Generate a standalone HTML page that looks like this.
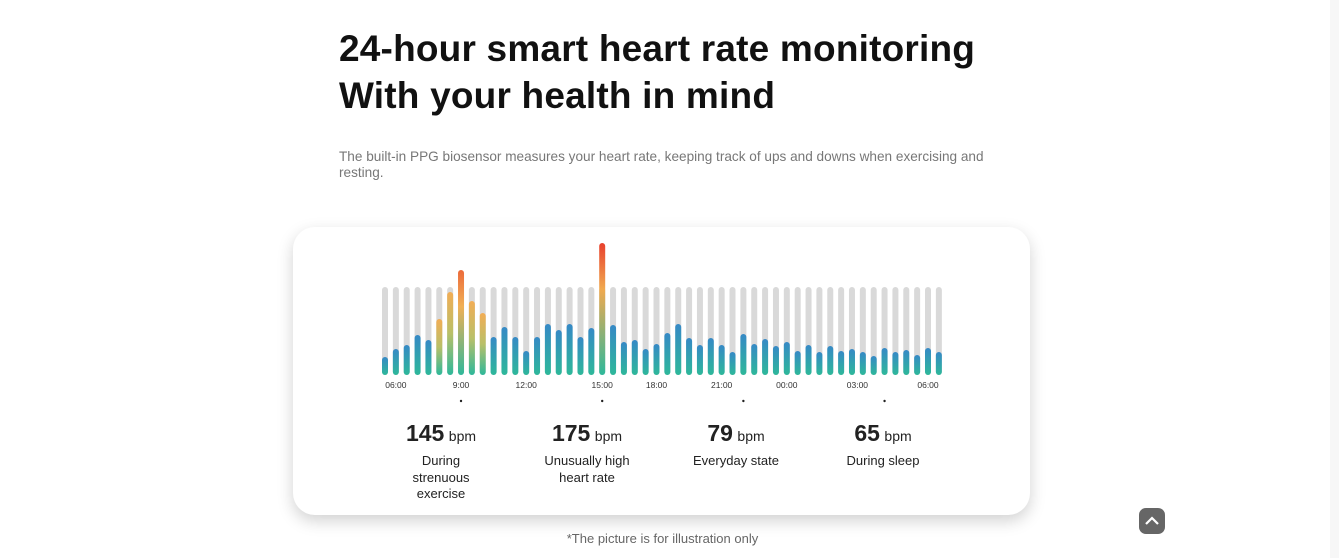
<!DOCTYPE html>
<html><head><meta charset="utf-8"><style>
body{margin:0;width:1339px;height:558px;background:#fff;font-family:"Liberation Sans",sans-serif;position:relative;overflow:hidden}
.t{position:absolute;left:339px;top:25px;font-size:37px;font-weight:bold;line-height:47px;color:#111;margin:0;letter-spacing:0.2px}
.s{position:absolute;left:339px;top:149px;width:680px;font-size:13.6px;line-height:16px;color:#777}
.card{position:absolute;left:293px;top:227px;width:737px;height:288px;border-radius:22px;background:#fff;box-shadow:0 6px 16px rgba(0,0,0,.18)}
.st{position:absolute;top:420px;width:150px;text-align:center;color:#222}
.st b{font-size:23px}.st span{font-size:14px}.st p{margin:6px 0 0;font-size:13px;line-height:16.5px}
.f{position:absolute;left:0;width:1325px;top:531px;text-align:center;font-size:13px;color:#666}
.up{position:absolute;left:1139px;top:508px;width:26px;height:26px;border-radius:7px;background:#666}
.sb{position:absolute;right:0;top:0;width:9px;height:558px;background:#f7f7f7}
</style></head><body>
<h1 class="t">24-hour smart heart rate monitoring<br>With your health in mind</h1>
<div class="s">The built-in PPG biosensor measures your heart rate, keeping track of ups and downs when exercising and resting.</div>
<div class="card"></div>
<svg id="c" width="1339" height="558" style="position:absolute;left:0;top:0">
<defs>
<linearGradient id="gb" x1="0" y1="0" x2="0" y2="1"><stop offset="0" stop-color="#3689c6"/><stop offset="1" stop-color="#2eb89a"/></linearGradient>
<linearGradient id="go" x1="0" y1="0" x2="0" y2="1"><stop offset="0" stop-color="#f2ad55"/><stop offset="0.5" stop-color="#b9c068"/><stop offset="1" stop-color="#2eb89a"/></linearGradient>
<linearGradient id="gm" x1="0" y1="0" x2="0" y2="1"><stop offset="0" stop-color="#ec6a3a"/><stop offset="0.35" stop-color="#f0b055"/><stop offset="1" stop-color="#2eb89a"/></linearGradient>
<linearGradient id="gr" x1="0" y1="0" x2="0" y2="1"><stop offset="0" stop-color="#e8402d"/><stop offset="0.35" stop-color="#f0a94f"/><stop offset="1" stop-color="#2eb89a"/></linearGradient>
</defs>
</svg>
<div class="st" style="left:366px"><b>145</b> <span>bpm</span><p>During<br>strenuous<br>exercise</p></div>
<div class="st" style="left:512px"><b>175</b> <span>bpm</span><p>Unusually high<br>heart rate</p></div>
<div class="st" style="left:661px"><b>79</b> <span>bpm</span><p>Everyday state</p></div>
<div class="st" style="left:808px"><b>65</b> <span>bpm</span><p>During sleep</p></div>
<div class="f">*The picture is for illustration only</div>
<div class="up"><svg width="26" height="26"><path d="M7 16 L13 10 L19 16" stroke="#fff" stroke-width="2.2" fill="none"/></svg></div>
<div class="sb"></div>
<script>
const values=[16,24,28,38,33,54,81,103,72,60,36,46,36,22,36,49,43,49,36,45,130,48,31,33,24,29,40,49,35,28,35,28,21,39,29,34,27,31,22,28,21,27,22,24,21,17,25,21,23,18,25,21];
const kinds=[0,0,0,0,0,1,1,2,1,1,0,0,0,0,0,0,0,0,0,0,3,0,0,0,0,0,0,0,0,0,0,0,0,0,0,0,0,0,0,0,0,0,0,0,0,0,0,0,0,0,0,0];
const tickLabels=["06:00","9:00","12:00","15:00","18:00","21:00","00:00","03:00","06:00"];
const tickPos=[1,7,13,20,25,31,37,43.5,50];
const dotPos=[7,20,33,46];
const bgMax=86;
const svg=document.getElementById('c');const NS='http://www.w3.org/2000/svg';
const x=i=>385+i*10.86, y=v=>373-v;
const fills=['url(#gb)','url(#go)','url(#gm)','url(#gr)'];
values.forEach((v,i)=>{
 const g=document.createElementNS(NS,'rect');
 g.setAttribute('x',x(i)-3);g.setAttribute('y',y(bgMax));g.setAttribute('width',6);g.setAttribute('height',bgMax+2);g.setAttribute('rx',3);g.setAttribute('fill','#d9d9d9');
 
 
 svg.appendChild(g);
 const b=document.createElementNS(NS,'rect');
 b.setAttribute('x',x(i)-3);b.setAttribute('y',y(v));b.setAttribute('width',6);b.setAttribute('height',v+2);b.setAttribute('rx',3);b.setAttribute('fill',fills[kinds[i]]);
 
 
 svg.appendChild(b);
});
tickLabels.forEach((t,k)=>{
 const e=document.createElementNS(NS,'text');
 e.setAttribute('x',x(tickPos[k]));e.setAttribute('y',388);e.setAttribute('text-anchor','middle');e.setAttribute('font-size','8.5');e.setAttribute('fill','#333');e.setAttribute('font-family','Liberation Sans, sans-serif');
 e.textContent=t;
 
 
 svg.appendChild(e);
});
dotPos.forEach(p=>{
 const d=document.createElementNS(NS,'circle');
 d.setAttribute('cx',x(p));d.setAttribute('cy',401);d.setAttribute('r',1.2);d.setAttribute('fill','#222');
 
 
 svg.appendChild(d);
});
</script>
</body></html>
